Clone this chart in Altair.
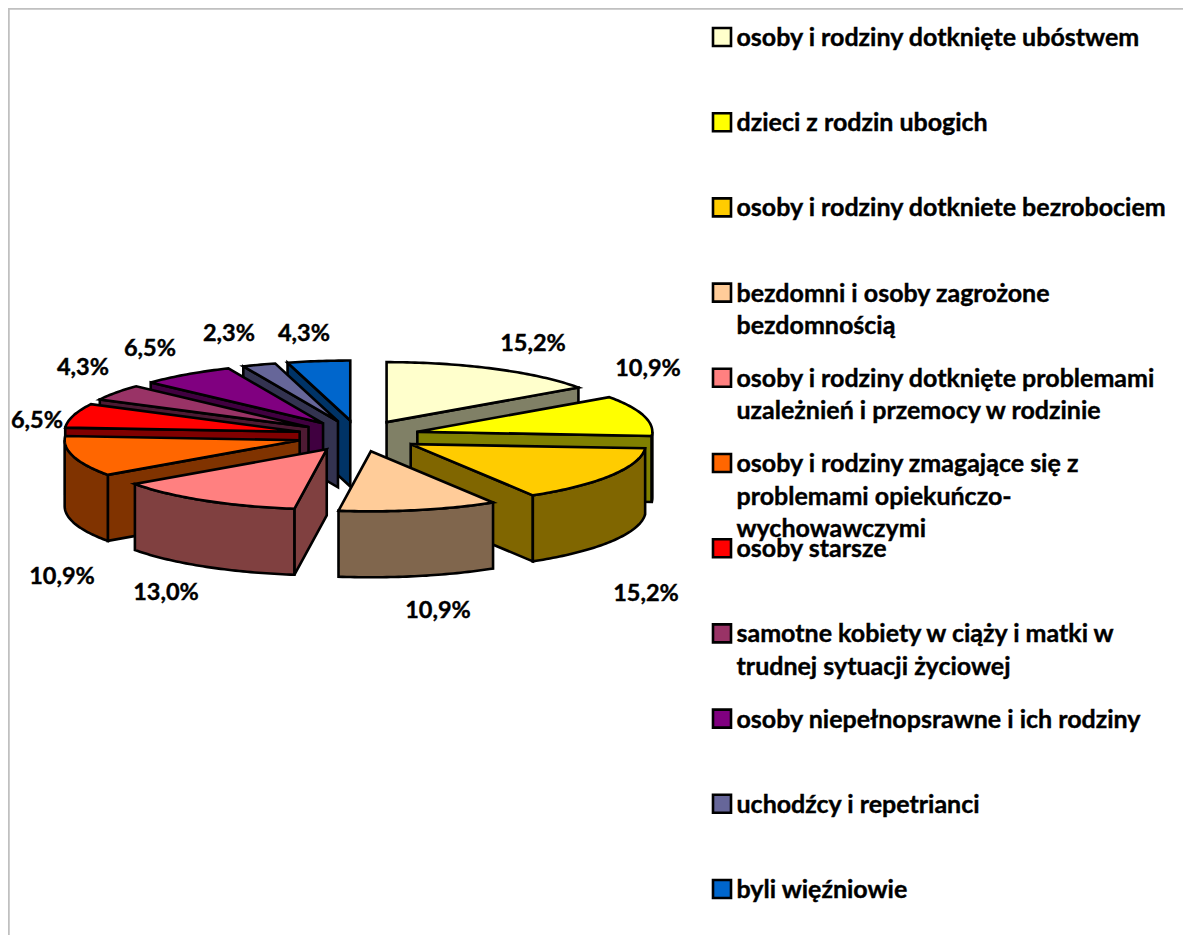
import math
import altair as alt

categories = [
    "osoby i rodziny dotknięte ubóstwem",
    "dzieci z rodzin ubogich",
    "osoby i rodziny dotkniete bezrobociem",
    "bezdomni i osoby zagrożone\nbezdomnością",
    "osoby i rodziny dotknięte problemami\nuzależnień i przemocy w rodzinie",
    "osoby i rodziny zmagające się z\nproblemami opiekuńczo-\nwychowawczymi",
    "osoby starsze",
    "samotne kobiety w ciąży i matki w\ntrudnej sytuacji życiowej",
    "osoby niepełnopsrawne i ich rodziny",
    "uchodźcy i repetrianci",
    "byli więźniowie",
]
values = [15.2, 10.9, 15.2, 10.9, 13.0, 10.9, 6.5, 4.3, 6.5, 2.3, 4.3]
top_colors = ["#FFFFCC", "#FFFF00", "#FFCC00", "#FFCC99", "#FF8080", "#FF6600",
              "#FF0000", "#993366", "#800080", "#666699", "#0066CC"]
side_colors = ["#808066", "#808000", "#806600", "#80664D", "#804040", "#803300",
               "#800000", "#4D1A33", "#400040", "#333350", "#003366"]

# layout (page pixels minus the 8px margin)
W, H = 1175, 927
CX, CY, A_RIGHT, A_LEFT, B, DEPTH, EXPLODE = 350.5, 428, 235, 235, 60, 66, 0.26
LABEL_ANCHORS = [(525, 335.5), (640, 361), (638, 586), (430, 603), (158, 585), (54, 569),
                 (29, 412.5), (75, 360), (142, 340.5), (221, 326), (296, 326)]
FONT = "Lato"


def half_axis(deg):
    return A_RIGHT if math.sin(math.radians(deg)) >= 0 else A_LEFT


def rim(ax, ay, deg, dz=0):
    t = math.radians(deg)
    return [ax + half_axis(deg) * math.sin(t), ay - B * math.cos(t) + dz]


def arc(ax, ay, d0, d1, dz=0):
    n = max(2, int(abs(d1 - d0)) + 2)
    return [rim(ax, ay, d0 + (d1 - d0) * i / (n - 1), dz) for i in range(n)]


def poly(coords, fill):
    ring = coords + [coords[0]]
    return {"type": "Feature", "properties": {"fill": fill},
            "geometry": {"type": "Polygon", "coordinates": [ring]}}


total = sum(values)
slices = []
cum = 0.0
for i, v in enumerate(values):
    d0, d1 = cum / total * 360, (cum + v) / total * 360
    cum += v
    middle = (d0 + d1) / 2
    mid = math.radians(middle)
    ax = CX + EXPLODE * half_axis(middle) * math.sin(mid)
    ay = CY - EXPLODE * B * math.cos(mid)
    slices.append((-math.cos(mid), i, d0, d1, ax, ay))

features = []
for _, i, d0, d1, ax, ay in sorted(slices):
    side, top = side_colors[i], top_colors[i]
    for d, visible in ((d0, math.sin(math.radians(d0)) < -1e-6),
                       (d1, math.sin(math.radians(d1)) > 1e-6)):
        if visible:
            p = rim(ax, ay, d)
            features.append(poly([[ax, ay], p, [p[0], p[1] + DEPTH], [ax, ay + DEPTH]], side))
    lo, hi = max(d0, 90), min(d1, 270)
    if lo < hi:
        features.append(poly(arc(ax, ay, lo, hi) + arc(ax, ay, hi, lo, DEPTH), side))
    features.append(poly([[ax, ay]] + arc(ax, ay, d0, d1), top))

# legend swatches and rows
ROW0, ROW_STEP, SW_X, SW = 29, 85.2, 705, 18
rows = [ROW0 + ROW_STEP * i for i in range(len(categories))]
for y, c in zip(rows, top_colors):
    features.append(poly([[SW_X, y - SW / 2], [SW_X + SW, y - SW / 2],
                          [SW_X + SW, y + SW / 2], [SW_X, y + SW / 2]], c))

shapes = (
    alt.Chart(alt.Data(values=features))
    .mark_geoshape(stroke="black", strokeWidth=2.6, strokeJoin="miter")
    .encode(fill=alt.Fill("properties.fill:N", scale=None))
)

legend_rows = [{"lon": SW_X + 23.5, "lat": y - 11, "t": c} for y, c in zip(rows, categories)]
legend_text = (
    alt.Chart(alt.Data(values=legend_rows))
    .mark_text(font=FONT, fontWeight="bold", fontSize=25, align="left", baseline="top",
               lineBreak="\n", lineHeight=32.5, color="black", stroke="black", strokeWidth=0.4)
    .encode(longitude="lon:Q", latitude="lat:Q", text="t:N")
)

pct_rows = [{"lon": x, "lat": y, "t": f"{v:.1f}%".replace(".", ",")}
            for (x, y), v in zip(LABEL_ANCHORS, values)]
pct_text = (
    alt.Chart(alt.Data(values=pct_rows))
    .mark_text(font=FONT, fontWeight="bold", fontSize=23.5, align="center", baseline="middle",
               color="black", stroke="black", strokeWidth=0.4)
    .encode(longitude="lon:Q", latitude="lat:Q", text="t:N")
)

border_rows = [
    {"type": "Feature", "properties": {},
     "geometry": {"type": "LineString", "coordinates": [[0.5, H], [0.5, 0.5], [W, 0.5]]}}
]
border = (
    alt.Chart(alt.Data(values=border_rows))
    .mark_geoshape(filled=False, stroke="#C0C0C0", strokeWidth=2.5)
)

chart = (
    alt.layer(border, shapes, legend_text, pct_text)
    .project(type="identity", scale=1, translate=[0, 0])
    .properties(width=W, height=H, padding=0, background="white")
    .configure_view(stroke=None)
)
chart.save("out.html", embed_options={"renderer": "svg", "actions": False})
